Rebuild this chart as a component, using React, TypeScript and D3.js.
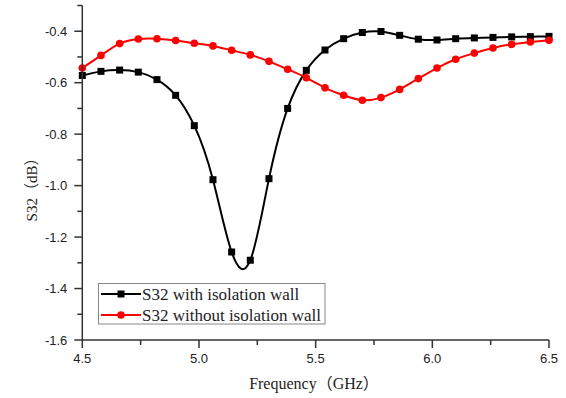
import React from "react";
import * as d3 from "d3";

// frequency points (GHz), step 0.08
const freq = d3.range(26).map(i => +(4.5 + i * 0.08).toFixed(2));

const withWall = [
  -0.572, -0.556, -0.551, -0.559, -0.588, -0.649, -0.767, -0.977, -1.258, -1.29,
  -0.973, -0.700, -0.552, -0.473, -0.429, -0.405, -0.401, -0.416, -0.431, -0.434,
  -0.429, -0.426, -0.424, -0.422, -0.421, -0.420,
];

const withoutWall = [
  -0.543, -0.494, -0.448, -0.430, -0.429, -0.436, -0.447, -0.457, -0.474, -0.492,
  -0.517, -0.548, -0.581, -0.620, -0.649, -0.668, -0.658, -0.626, -0.584, -0.543,
  -0.509, -0.485, -0.465, -0.451, -0.442, -0.435,
];

const xTicks = [4.5, 5.0, 5.5, 6.0, 6.5];
const xMinor = [4.75, 5.25, 5.75, 6.25];
const yTicks = [-1.6, -1.4, -1.2, -1.0, -0.8, -0.6, -0.4];
const yMinor = [-1.5, -1.3, -1.1, -0.9, -0.7, -0.5, -0.3];

const legendLabels = ["S32 with isolation wall", "S32 without isolation wall"];

const serif = "'Times New Roman', 'Liberation Serif', 'Noto Sans CJK SC', serif";
const sans = "Arial, 'Liberation Sans', sans-serif";
const axisColor = "#333";

export default function App() {
  const W = 566;
  const H = 398;
  const x = d3.scaleLinear().domain([4.5, 6.5]).range([82.3, 549]);
  const y = d3.scaleLinear().domain([-1.6, -0.3]).range([340, 5.5]);

  const line = d3
    .line<number>()
    .x((_, i) => x(freq[i]))
    .y(d => y(d))
    .curve(d3.curveNatural);

  const series = [
    { values: withWall, color: "#000", shape: "square" },
    { values: withoutWall, color: "#ff0000", shape: "circle" },
  ];

  const marker = (shape: string, cx: number, cy: number, color: string, key: string) =>
    shape === "square" ? (
      <rect key={key} x={cx - 3.5} y={cy - 3.5} width={7} height={7} fill={color} />
    ) : (
      <circle key={key} cx={cx} cy={cy} r={3.8} fill={color} />
    );

  return (
    <svg
      width={W}
      height={H}
      style={{ position: "absolute", left: 0, top: 0, background: "#fff" }}
    >
      {/* series */}
      {series.map((s, si) => (
        <g key={si}>
          <path d={line(s.values) || ""} fill="none" stroke={s.color} strokeWidth={2} />
          {s.values.map((v, i) => marker(s.shape, x(freq[i]), y(v), s.color, `${si}-${i}`))}
        </g>
      ))}

      {/* axes */}
      <g stroke={axisColor} strokeWidth={1.5}>
        <line x1={x(4.5)} x2={x(4.5)} y1={y(-0.3)} y2={y(-1.6)} />
        <line x1={x(4.5)} x2={x(6.5)} y1={y(-1.6)} y2={y(-1.6)} />
        {yTicks.map(t => (
          <line key={t} x1={x(4.5) - 8} x2={x(4.5)} y1={y(t)} y2={y(t)} />
        ))}
        {yMinor.map(t => (
          <line key={t} x1={x(4.5) - 5} x2={x(4.5)} y1={y(t)} y2={y(t)} />
        ))}
        {xTicks.map(t => (
          <line key={t} x1={x(t)} x2={x(t)} y1={y(-1.6)} y2={y(-1.6) + 8} />
        ))}
        {xMinor.map(t => (
          <line key={t} x1={x(t)} x2={x(t)} y1={y(-1.6)} y2={y(-1.6) + 5} />
        ))}
      </g>

      <g fontFamily={sans} fontSize={13} fill="#222">
        {yTicks.map(t => (
          <text key={t} x={x(4.5) - 15} y={y(t)} dy="0.35em" textAnchor="end">
            {t.toFixed(1)}
          </text>
        ))}
        {xTicks.map(t => (
          <text key={t} x={x(t)} y={y(-1.6) + 23} textAnchor="middle">
            {t.toFixed(1)}
          </text>
        ))}
      </g>

      <text x={314} y={389} textAnchor="middle" fontFamily={serif} fontSize={16} fill="#222">
        Frequency（GHz）
      </text>
      <text
        transform={`translate(37,${186}) rotate(-90)`}
        textAnchor="middle"
        fontFamily={serif}
        fontSize={15}
        fill="#222"
      >
        S32（dB）
      </text>

      {/* legend */}
      <g>
        <rect x={98.5} y={283.5} width={226.5} height={40.5} fill="#fff" stroke="#888" strokeWidth={1} />
        {series.map((s, i) => {
          const ly = 294 + i * 21;
          return (
            <g key={i}>
              <line x1={101} x2={141} y1={ly} y2={ly} stroke={s.color} strokeWidth={2} />
              {marker(s.shape, 121, ly, s.color, `l${i}`)}
              <text x={142} y={ly} dy="0.33em" fontFamily={serif} fontSize={17} fill="#222">
                {legendLabels[i]}
              </text>
            </g>
          );
        })}
      </g>
    </svg>
  );
}
